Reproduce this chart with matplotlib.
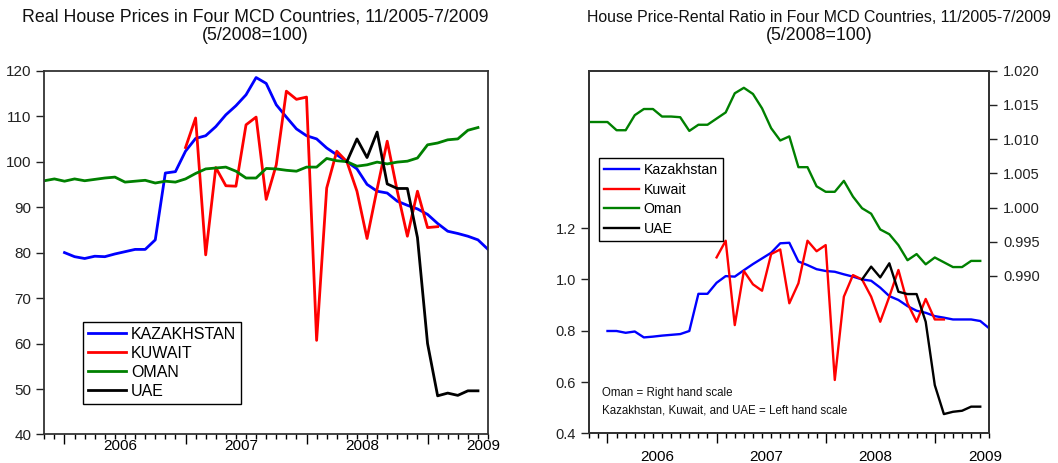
import numpy as np
import pandas as pd
import matplotlib
matplotlib.use('Agg')
import matplotlib.pyplot as plt
from matplotlib.ticker import FormatStrFormatter

plt.rcParams['font.family'] = ['Liberation Sans', 'DejaVu Sans']

# monthly data, 11/2005 - 7/2009 (5/2008 = 100)
months = pd.period_range('2005-11', '2009-07', freq='M')
nan = np.nan

# real house prices (left chart)
kaz_price = [nan, nan, 80.0, 79.1, 78.7, 79.2, 79.1, 79.7, 80.2, 80.7, 80.7, 82.8,
             97.5, 97.8, 102.3, 105.1, 105.7, 107.7, 110.3, 112.3, 114.7, 118.5,
             117.2, 112.5, 109.8, 107.2, 105.7, 105.0, 103.0, 101.5, 100.0, 98.4,
             95.0, 93.5, 93.1, 91.3, 90.4, 89.6, 88.4, 86.4, 84.7, 84.2, 83.6, 82.8,
             80.7]
kuw_price = [nan] * 14 + [103.1, 109.6, 79.5, 98.7, 94.7, 94.6, 108.1, 109.8, 91.7,
                          99.3, 115.5, 113.7, 114.2, 60.7, 94.2, 102.3, 100.0, 93.5,
                          83.1, 94.0, 104.5, 93.5, 83.6, 93.5, 85.5, 85.7] + [nan] * 5
oman_price = [95.8, 96.2, 95.7, 96.2, 95.8, 96.1, 96.4, 96.6, 95.5, 95.7, 95.9, 95.3,
              95.7, 95.5, 96.2, 97.4, 98.4, 98.6, 98.8, 97.9, 96.4, 96.4, 98.5, 98.4,
              98.1, 97.9, 98.8, 98.8, 100.7, 100.2, 100.0, 99.0, 99.3, 99.9, 99.5,
              99.9, 100.1, 100.8, 103.7, 104.1, 104.8, 105.0, 106.9, 107.5, nan]
uae_price = [nan] * 30 + [100.0, 105.0, 100.9, 106.5, 95.1, 94.1, 94.1, 83.3, 60.0,
                          48.5, 49.1, 48.6, 49.6, 49.6, nan]

# house price-rental ratio (right chart)
kaz_ratio = [nan, nan, 0.799, 0.799, 0.792, 0.797, 0.774, 0.777, 0.781, 0.784, 0.787,
             0.799, 0.944, 0.944, 0.987, 1.013, 1.011, 1.036, 1.060, 1.082, 1.104,
             1.141, 1.143, 1.070, 1.056, 1.040, 1.033, 1.030, 1.020, 1.011, 1.000,
             0.995, 0.968, 0.935, 0.920, 0.896, 0.878, 0.870, 0.857, 0.851, 0.844,
             0.844, 0.844, 0.838, 0.809]
kuw_ratio = [nan] * 14 + [1.086, 1.151, 0.822, 1.033, 0.981, 0.956, 1.099, 1.117,
                          0.907, 0.985, 1.151, 1.110, 1.134, 0.608, 0.933, 1.017,
                          1.000, 0.933, 0.835, 0.933, 1.037, 0.907, 0.835, 0.924,
                          0.844, 0.844] + [nan] * 5
oman_ratio = [1.0125, 1.0125, 1.0125, 1.0113, 1.0113, 1.0135, 1.0144, 1.0144, 1.0133,
              1.0133, 1.0132, 1.0112, 1.0121, 1.0121, 1.0130, 1.0139, 1.0167, 1.0175,
              1.0166, 1.0145, 1.0116, 1.0098, 1.0104, 1.0059, 1.0059, 1.0031, 1.0023,
              1.0023, 1.0039, 1.0016, 0.9999, 0.9991, 0.9968, 0.9961, 0.9945, 0.9923,
              0.9932, 0.9917, 0.9927, 0.9920, 0.9913, 0.9913, 0.9922, 0.9922, nan]
uae_ratio = [nan] * 30 + [1.000, 1.050, 1.008, 1.063, 0.952, 0.943, 0.943, 0.835,
                          0.588, 0.475, 0.484, 0.488, 0.504, 0.504, nan]

x = np.arange(len(months))
jan = x[months.month == 1]
years = [str(y) for y in months.year[months.month == 1]]
mid_year = jan + 5.5

fig = plt.figure(figsize=(10.58, 4.63), dpi=100)


def style_axes(ax, pad):
    ax.set_xlim(x[0], x[-1])
    ax.set_xticks(jan)
    ax.set_xticks(x, minor=True)
    ax.set_xticklabels([])
    ax.tick_params(axis='x', which='major', length=7.5, width=1, direction='out')
    ax.tick_params(axis='x', which='minor', length=3.5, width=1, direction='out')
    ax.tick_params(axis='y', length=6, width=1, direction='out', labelsize=11,
                   colors='#222222')
    for s in ax.spines.values():
        s.set_linewidth(1.3)
        s.set_color('#333333')
    # year labels sit in the middle of each year
    sec = ax.secondary_xaxis('bottom')
    sec.set_xticks(mid_year, labels=years)
    sec.tick_params(length=0, pad=pad, labelsize=11)
    sec.spines['bottom'].set_visible(False)


# left chart
ax1 = fig.add_axes([0.0419, 0.0616, 0.4194, 0.7857])
ax1.plot(x, kaz_price, color='#0000ff', lw=2.0, label='KAZAKHSTAN')
ax1.plot(x, kuw_price, color='#ff0000', lw=2.0, label='KUWAIT')
ax1.plot(x, oman_price, color='#008000', lw=2.0, label='OMAN')
ax1.plot(x, uae_price, color='black', lw=2.0, label='UAE')
ax1.set_ylim(40, 120)
ax1.set_yticks(np.arange(40, 121, 10))
style_axes(ax1, 3)
leg = ax1.legend(loc='upper left', bbox_to_anchor=(0.087, 0.309), fontsize=11.5,
                 frameon=True, fancybox=False, framealpha=1, edgecolor='black',
                 handlelength=2.4, handletextpad=0.3, labelspacing=0.25,
                 borderpad=0.3, borderaxespad=0)
leg.get_frame().set_linewidth(1.0)

fig.text(0.241, 0.963, 'Real House Prices in Four MCD Countries, 11/2005-7/2009',
         ha='center', va='center', fontsize=12.8, color='#111111')
fig.text(0.241, 0.924, '(5/2008=100)', ha='center', va='center', fontsize=12.8,
         color='#111111')

# right chart, Oman on the right hand scale
ax2 = fig.add_axes([0.557, 0.0641, 0.3781, 0.7832])
l1, = ax2.plot(x, kaz_ratio, color='#0000ff', lw=1.7, label='Kazakhstan')
l2, = ax2.plot(x, kuw_ratio, color='#ff0000', lw=1.7, label='Kuwait')
l4, = ax2.plot(x, uae_ratio, color='black', lw=1.7, label='UAE')
ax2.set_ylim(0.4, 1.814)
ax2.set_yticks([0.4, 0.6, 0.8, 1.0, 1.2])
ax2.yaxis.set_major_formatter(FormatStrFormatter('%.1f'))
style_axes(ax2, 12)
ax2.tick_params(axis='y', labelsize=10.5)

ax3 = ax2.twinx()
l3, = ax3.plot(x, oman_ratio, color='#008000', lw=1.7, label='Oman')
ax3.set_ylim(0.967, 1.020)
ax3.set_yticks([0.990, 0.995, 1.000, 1.005, 1.010, 1.015, 1.020])
ax3.yaxis.set_major_formatter(FormatStrFormatter('%.3f'))
ax3.tick_params(axis='y', length=6, width=1, direction='out', labelsize=10.5,
                colors='#222222', pad=4)
for s in ax3.spines.values():
    s.set_linewidth(1.3)
    s.set_color('#333333')

leg2 = ax3.legend([l1, l2, l3, l4], ['Kazakhstan', 'Kuwait', 'Oman', 'UAE'],
                  loc='upper left', bbox_to_anchor=(0.024, 0.759), fontsize=10.2,
                  frameon=True, fancybox=False, framealpha=1, edgecolor='black',
                  handlelength=2.5, handletextpad=0.3, labelspacing=0.4,
                  borderpad=0.35, borderaxespad=0)
leg2.get_frame().set_linewidth(1.0)

ax2.text(0.031, 0.112, 'Oman = Right hand scale', transform=ax2.transAxes,
         fontsize=8.3, va='center', color='#111111')
ax2.text(0.031, 0.062, 'Kazakhstan, Kuwait, and UAE = Left hand scale',
         transform=ax2.transAxes, fontsize=8.3, va='center', color='#111111')

fig.text(0.774, 0.963, 'House Price-Rental Ratio in Four MCD Countries, 11/2005-7/2009',
         ha='center', va='center', fontsize=11.4, color='#111111')
fig.text(0.774, 0.924, '(5/2008=100)', ha='center', va='center', fontsize=12.8,
         color='#111111')

fig.savefig('out.png', dpi=100)
